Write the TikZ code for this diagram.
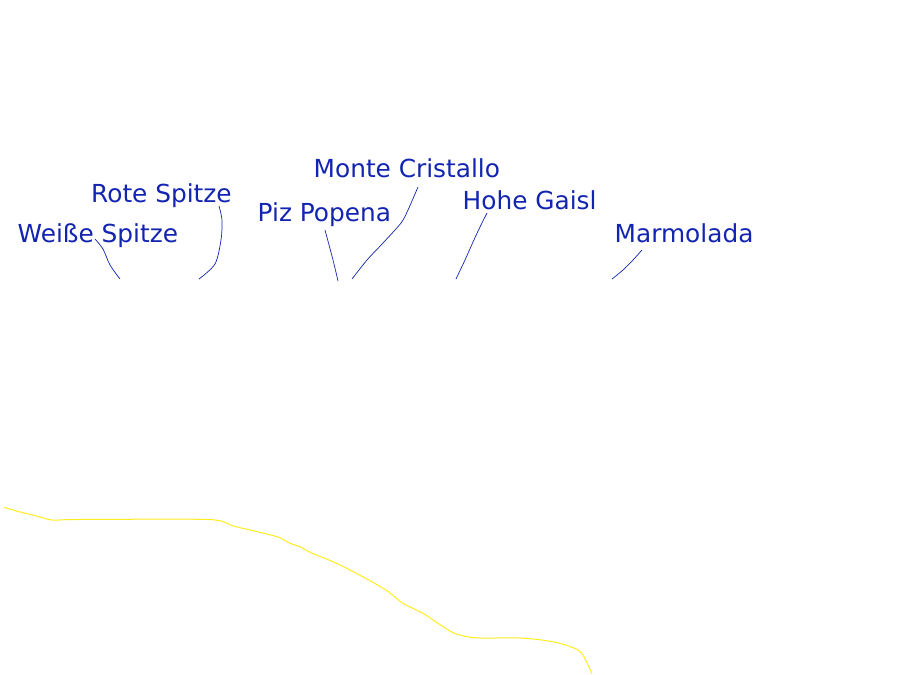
\documentclass[tikz,border=0pt]{standalone}
\usepackage{fontspec}
\setmainfont{DejaVu Sans}
\definecolor{peakblue}{RGB}{18,36,176}
\definecolor{trackyellow}{RGB}{255,236,30}

\begin{document}
\begin{tikzpicture}[x=1pt, y=-1pt,
   label/.style={anchor=base west, inner sep=0pt, text=peakblue, font=\fontsize{24.8}{28}\selectfont},
   leader/.style={draw=peakblue, line width=0.7pt},
   track/.style={draw=trackyellow, line width=1pt}]
      \useasboundingbox (0,0) rectangle (900,675);

      % peak names
      \node[label, name=weisse] at (17.5,242) {Weiße Spitze};
      \node[label, name=rote] at (91,202) {Rote Spitze};
      \node[label, name=popena] at (257.5,221) {Piz Popena};
      \node[label, name=cristallo] at (313.5,177.5) {Monte Cristallo};
      \node[label, name=gaisl] at (462.5,209) {Hohe Gaisl};
      \node[label, name=marmolada] at (614.5,242) {Marmolada};

      % ends of the leaders
      \coordinate (weisse-top) at (95,239);
      \coordinate (weisse-foot) at (120,279);
      \coordinate (rote-top) at (219,206);
      \coordinate (rote-foot) at (199,279);
      \coordinate (popena-top) at (325,230);
      \coordinate (popena-foot) at (338,281);
      \coordinate (cristallo-top) at (418,187);
      \coordinate (cristallo-foot) at (352,279);
      \coordinate (gaisl-top) at (487,213);
      \coordinate (gaisl-foot) at (456,279);
      \coordinate (marmolada-top) at (642,250);
      \coordinate (marmolada-foot) at (612,279);

      \draw[leader] plot[smooth] coordinates {(weisse-top) (103,249) (110,265) (weisse-foot)};
      \draw[leader] plot[smooth] coordinates {(rote-top) (222,220) (221,240) (215,264) (rote-foot)};
      \draw[leader] plot[smooth] coordinates {(popena-top) (333,260) (popena-foot)};
      \draw[leader] plot[smooth] coordinates {(cristallo-top) (408,210) (401,223) (383,243) (367,260) (cristallo-foot)};
      \draw[leader] plot[smooth] coordinates {(gaisl-top) (480,227) (473,242) (465,260) (gaisl-foot)};
      \draw[leader] plot[smooth] coordinates {(marmolada-top) (633,260) (623,270) (marmolada-foot)};

      % the yellow line
      \draw[track] plot[smooth, tension=0.4] coordinates {(4,507.3) (20,512) (33,515) (52,520) (77,519.5)
         (209,519.5) (233,526) (253,530.7) (267,534) (280,537.7) (290,543.3) (300,546.7)
         (310,552.3) (333,561.7) (350,570) (370,580.7) (387,590.7) (403,603.3) (423,613.3) (437,622.7)
         (453,632.7) (467,636.7) (480,638) (520,638) (542,640) (560,643.3) (577,649.3) (583,655)
         (588,665) (592,673.5)};
   \end{tikzpicture}
\end{document}
